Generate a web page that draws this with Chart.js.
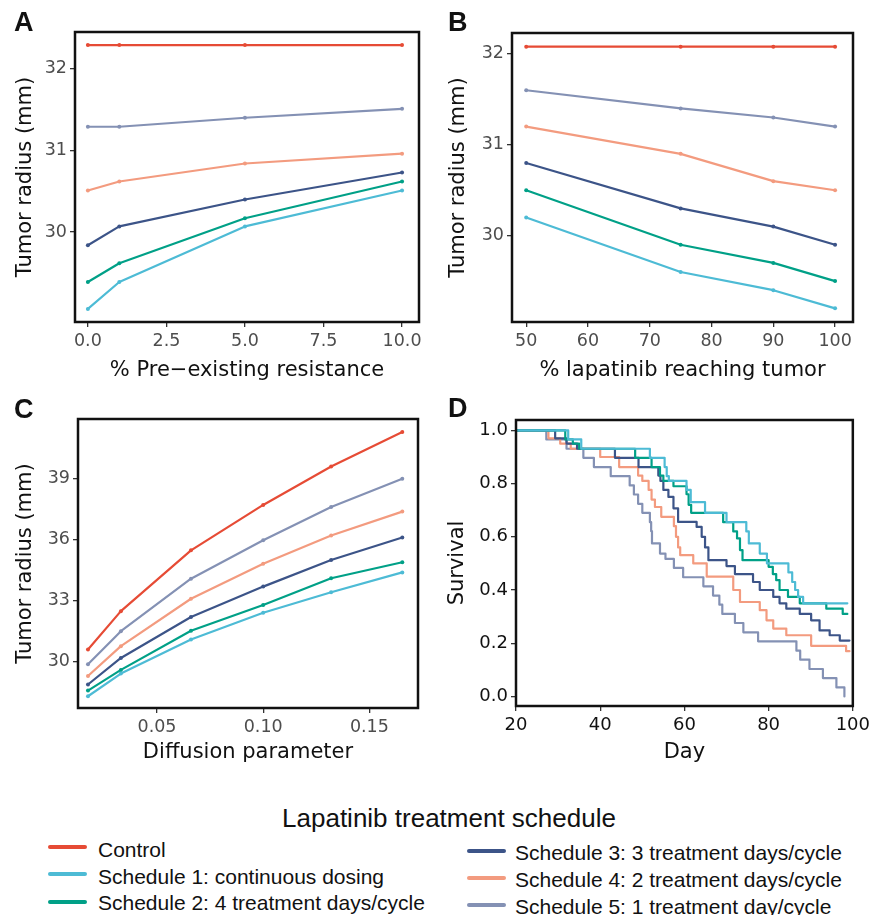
<!DOCTYPE html>
<html>
<head>
<meta charset="utf-8">
<script src="https://cdn.jsdelivr.net/npm/chart.js@4.4.1/dist/chart.umd.min.js"></script>
<style>
  html, body { margin:0; padding:0; background:#fff; }
  body { width:874px; height:915px; position:relative; overflow:hidden; font-family:"Liberation Sans", Arial, sans-serif; }
  .cv { position:absolute; }
  .letter { position:absolute; font-family:"Liberation Sans", Arial, sans-serif; font-weight:bold; font-size:27px; line-height:27px; color:#111; }
  .lg-title { position:absolute; left:0; width:898px; text-align:center; font-size:26px; line-height:26px; color:#111; }
  .lg-item { position:absolute; font-size:21px; line-height:21px; color:#111; white-space:nowrap; }
  .lg-line { position:absolute; width:39px; height:4px; border-radius:2px; }
</style>
</head>
<body>
<canvas id="cA" class="cv" style="left:0px;top:0px;width:440px;height:390px" width="440" height="390"></canvas>
<canvas id="cB" class="cv" style="left:420px;top:0px;width:454px;height:390px" width="454" height="390"></canvas>
<canvas id="cC" class="cv" style="left:0px;top:390px;width:440px;height:400px" width="440" height="400"></canvas>
<canvas id="cD" class="cv" style="left:420px;top:390px;width:454px;height:400px" width="454" height="400"></canvas>
<div class="letter" style="left:14px;top:9px">A</div>
<div class="letter" style="left:448px;top:9px">B</div>
<div class="letter" style="left:14px;top:396px">C</div>
<div class="letter" style="left:448px;top:395px">D</div>
<div id="legend"></div>
<script>
// ---------- series ----------
const seriesNames = ["Control", "Schedule 1: continuous dosing", "Schedule 2: 4 treatment days/cycle",
  "Schedule 3: 3 treatment days/cycle", "Schedule 4: 2 treatment days/cycle", "Schedule 5: 1 treatment day/cycle"];
const seriesColors = ["#E64B35", "#4DBBD5", "#00A087", "#3C5488", "#F39B7F", "#8491B4"];

// ---------- Panel A: % pre-existing resistance ----------
const resistancePct = [0, 1, 5, 10];
const resA_control = [32.29, 32.29, 32.29, 32.29];
const resA_s1 = [29.06, 29.39, 30.07, 30.51];
const resA_s2 = [29.39, 29.62, 30.17, 30.62];
const resA_s3 = [29.84, 30.07, 30.40, 30.73];
const resA_s4 = [30.51, 30.62, 30.84, 30.96];
const resA_s5 = [31.29, 31.29, 31.40, 31.51];
const ticksAx = [0, 2.5, 5, 7.5, 10];
const labelsAx = ["0.0", "2.5", "5.0", "7.5", "10.0"];
const ticksAy = [30, 31, 32];
const labelsAy = ["30", "31", "32"];

// ---------- Panel B: % lapatinib reaching tumor ----------
const lapatinibPct = [50, 75, 90, 100];
const resB_control = [32.08, 32.08, 32.08, 32.08];
const resB_s1 = [30.2, 29.6, 29.4, 29.2];
const resB_s2 = [30.5, 29.9, 29.7, 29.5];
const resB_s3 = [30.8, 30.3, 30.1, 29.9];
const resB_s4 = [31.2, 30.9, 30.6, 30.5];
const resB_s5 = [31.6, 31.4, 31.3, 31.2];
const ticksBx = [50, 60, 70, 80, 90, 100];
const labelsBx = ["50", "60", "70", "80", "90", "100"];
const ticksBy = [30, 31, 32];
const labelsBy = ["30", "31", "32"];

// ---------- Panel C: diffusion parameter ----------
const diffusion = [0.0175, 0.033, 0.066, 0.1, 0.132, 0.1655];
const resC_control = [30.58, 32.47, 35.47, 37.71, 39.61, 41.31];
const resC_s1 = [28.27, 29.39, 31.07, 32.39, 33.40, 34.38];
const resC_s2 = [28.55, 29.57, 31.50, 32.77, 34.09, 34.88];
const resC_s3 = [28.85, 30.16, 32.18, 33.68, 34.99, 36.10];
const resC_s4 = [29.27, 30.74, 33.08, 34.81, 36.20, 37.38];
const resC_s5 = [29.85, 31.48, 34.07, 35.97, 37.61, 39.00];
const ticksCx = [0.05, 0.10, 0.15];
const labelsCx = ["0.05", "0.10", "0.15"];
const ticksCy = [30, 33, 36, 39];
const labelsCy = ["30", "33", "36", "39"];

// ---------- Panel D: survival (Kaplan-Meier steps) ----------
const s1Days = [20, 32.4, 35.5, 51.8, 55.3, 55.8, 56.3, 60.5, 61.5, 64.9, 70, 74.7, 75.3, 77.9, 79.6, 84.7, 85.6, 86.3, 87.0, 88.2, 98.7];
const s1Surv = [1, 0.966, 0.931, 0.897, 0.862, 0.828, 0.81, 0.776, 0.73, 0.69, 0.655, 0.62, 0.575, 0.537, 0.50, 0.466, 0.43, 0.40, 0.374, 0.35, 0.35];
const s2Days = [20, 31.7, 33.5, 35, 48.3, 52.2, 54.2, 55, 57.4, 60.5, 61, 61.6, 69.2, 71.6, 72.5, 73.2, 73.8, 80, 81, 81.8, 82.6, 84.6, 87.4, 93.7, 97.6, 98.7];
const s2Surv = [1, 0.966, 0.95, 0.931, 0.897, 0.862, 0.83, 0.81, 0.79, 0.76, 0.72, 0.69, 0.655, 0.62, 0.594, 0.55, 0.512, 0.487, 0.46, 0.437, 0.40, 0.374, 0.35, 0.33, 0.31, 0.31];
const s3Days = [20, 29.3, 32, 34.5, 43.5, 49.1, 53.8, 54.3, 55, 56.2, 57.4, 58.5, 62.9, 64.1, 64.9, 65.7, 70, 72, 76.3, 77.9, 81.1, 82.6, 84.2, 87.4, 90.1, 92.1, 94.5, 96.9, 99.2];
const s3Surv = [1, 0.97, 0.95, 0.931, 0.897, 0.862, 0.83, 0.81, 0.776, 0.75, 0.707, 0.656, 0.637, 0.60, 0.56, 0.512, 0.49, 0.46, 0.43, 0.40, 0.374, 0.35, 0.33, 0.31, 0.286, 0.248, 0.23, 0.21, 0.21];
const s4Days = [20, 27.7, 30.5, 33, 40, 44.5, 49, 50, 51.5, 52.2, 53, 54.5, 57.5, 58, 58.5, 59, 62.1, 65.3, 71.6, 73.2, 77.9, 79.5, 81.1, 84.2, 90.1, 98.4, 99.2];
const s4Surv = [1, 0.97, 0.95, 0.931, 0.90, 0.862, 0.83, 0.81, 0.776, 0.74, 0.712, 0.675, 0.64, 0.60, 0.56, 0.531, 0.50, 0.45, 0.40, 0.355, 0.324, 0.286, 0.255, 0.23, 0.19, 0.17, 0.17];
const s5Days = [20, 27.2, 32, 36, 38.5, 42.5, 47, 48, 49, 50, 51.8, 52.1, 52.3, 54.2, 55.5, 57.5, 59.7, 64.5, 66.8, 68.3, 69, 72, 74, 77.5, 86.6, 87.5, 89.7, 92.9, 96.1, 98];
const s5Surv = [1, 0.966, 0.931, 0.897, 0.862, 0.828, 0.793, 0.759, 0.724, 0.690, 0.655, 0.621, 0.575, 0.537, 0.517, 0.483, 0.448, 0.414, 0.379, 0.345, 0.310, 0.276, 0.241, 0.207, 0.172, 0.138, 0.103, 0.069, 0.034, 0.0];
const ticksDx = [20, 40, 60, 80, 100];
const labelsDx = ["20", "40", "60", "80", "100"];
const ticksDy = [0, 0.2, 0.4, 0.6, 0.8, 1.0];
const labelsDy = ["0.0", "0.2", "0.4", "0.6", "0.8", "1.0"];

// ---------- helpers ----------
const framePlugin = {
  id: 'frame',
  afterDatasetsDraw(chart) {
    const { ctx, chartArea: { left, top, right, bottom } } = chart;
    ctx.save();
    ctx.strokeStyle = '#111';
    ctx.lineWidth = 2.5;
    ctx.strokeRect(left, top, right - left, bottom - top);
    ctx.restore();
  }
};

function lineSets(xs, ys, stepped) {
  return ys.map((arr, i) => ({
    label: seriesNames[i + (stepped ? 1 : 0)],
    data: arr.map((v, j) => ({ x: xs[i][j], y: v })),
    borderColor: seriesColors[i + (stepped ? 1 : 0)],
    backgroundColor: seriesColors[i + (stepped ? 1 : 0)],
    borderWidth: 2.2,
    pointRadius: stepped ? 0 : 2,
    pointBorderWidth: 0,
    stepped: stepped ? 'before' : false,
    tension: 0,
    fill: false
  }));
}

function axis(o) {
  return {
    type: 'linear',
    position: o.pos,
    min: o.min, max: o.max,
    afterBuildTicks: (s) => { s.ticks = o.ticks.map(v => ({ value: v })); },
    afterFit: (s) => { if (o.pos === 'left') s.width = o.size; else s.height = o.size; },
    grid: { display: true, drawOnChartArea: false, drawTicks: true, tickLength: 5, color: '#333', lineWidth: 1.3 },
    border: { display: false },
    ticks: {
      autoSkip: false, maxRotation: 0, padding: o.tpad,
      font: { family: 'DejaVu Sans', size: o.tsize || 17.5 },
      color: o.tcolor || '#4D4D4D',
      callback: (v, i) => o.labels[i]
    },
    title: {
      display: true, text: o.title, color: '#111',
      font: { family: 'DejaVu Sans', size: 21 },
      padding: o.pos === 'left' ? { top: o.titlePad, bottom: 0 } : { top: 0, bottom: o.titlePad }
    }
  };
}

function makeChart(id, datasets, xa, ya, pad) {
  new Chart(document.getElementById(id), {
    type: 'line',
    data: { datasets },
    options: {
      responsive: false, animation: false,
      layout: { padding: pad },
      plugins: { legend: { display: false }, tooltip: { enabled: false } },
      scales: { x: axis(xa), y: axis(ya) },
      elements: { line: { borderCapStyle: 'round', borderJoinStyle: 'round' } }
    },
    plugins: [framePlugin]
  });
}

const xyA = [resA_control, resA_s1, resA_s2, resA_s3, resA_s4, resA_s5];
makeChart('cA', lineSets(xyA.map(() => resistancePct), xyA, false),
  { pos: 'bottom', min: -0.41, max: 10.54, ticks: ticksAx, labels: labelsAx, size: 68, tpad: 4, title: '% Pre\u2212existing resistance', titlePad: 7 },
  { pos: 'left', min: 28.9, max: 32.45, ticks: ticksAy, labels: labelsAy, size: 75, tpad: 3, title: 'Tumor radius (mm)', titlePad: 13 },
  { left: 0, top: 32, right: 21, bottom: 0 });

const xyB = [resB_control, resB_s1, resB_s2, resB_s3, resB_s4, resB_s5];
makeChart('cB', lineSets(xyB.map(() => lapatinibPct), xyB, false),
  { pos: 'bottom', min: 47.7, max: 102.9, ticks: ticksBx, labels: labelsBx, size: 68, tpad: 4, title: '% lapatinib reaching tumor', titlePad: 7 },
  { pos: 'left', min: 29.05, max: 32.23, ticks: ticksBy, labels: labelsBy, size: 92, tpad: 3, title: 'Tumor radius (mm)', titlePad: 26 },
  { left: 0, top: 33, right: 21, bottom: 0 });

const xyC = [resC_control, resC_s1, resC_s2, resC_s3, resC_s4, resC_s5];
makeChart('cC', lineSets(xyC.map(() => diffusion), xyC, false),
  { pos: 'bottom', min: 0.0128, max: 0.1729, ticks: ticksCx, labels: labelsCx, size: 82, tpad: 4, title: 'Diffusion parameter', titlePad: 25 },
  { pos: 'left', min: 27.69, max: 41.95, ticks: ticksCy, labels: labelsCy, size: 78, tpad: 3, title: 'Tumor radius (mm)', titlePad: 13 },
  { left: 0, top: 29, right: 22, bottom: 0 });

makeChart('cD', lineSets([s1Days, s2Days, s3Days, s4Days, s5Days], [s1Surv, s2Surv, s3Surv, s4Surv, s5Surv], true),
  { pos: 'bottom', min: 20, max: 100, ticks: ticksDx, labels: labelsDx, size: 84, tpad: 4, title: 'Day', titlePad: 25, tcolor: '#111', tsize: 18 },
  { pos: 'left', min: -0.036, max: 1.039, ticks: ticksDy, labels: labelsDy, size: 96, tpad: 3, title: 'Survival', titlePad: 25, tcolor: '#111', tsize: 18 },
  { left: 0, top: 30, right: 21, bottom: 0 });

// ---------- legend (HTML) ----------
const lg = document.getElementById('legend');
const t = document.createElement('div');
t.className = 'lg-title'; t.style.top = '805px'; t.textContent = 'Lapatinib treatment schedule';
lg.appendChild(t);
const legendPos = [
  { lx: 48, tx: 98, top: 839, ly: 845 },
  { lx: 48, tx: 98, top: 865.5, ly: 872 },
  { lx: 48, tx: 98, top: 892, ly: 900 },
  { lx: 467, tx: 515, top: 842, ly: 849 },
  { lx: 467, tx: 515, top: 869, ly: 876 },
  { lx: 467, tx: 515, top: 895.5, ly: 903 }
];
seriesNames.forEach((name, i) => {
  const p = legendPos[i];
  const ln = document.createElement('div');
  ln.className = 'lg-line'; ln.style.left = p.lx + 'px'; ln.style.top = p.ly + 'px'; ln.style.background = seriesColors[i];
  const tx = document.createElement('div');
  tx.className = 'lg-item'; tx.style.left = p.tx + 'px'; tx.style.top = p.top + 'px'; tx.textContent = name;
  lg.appendChild(ln); lg.appendChild(tx);
});
</script>
</body>
</html>
